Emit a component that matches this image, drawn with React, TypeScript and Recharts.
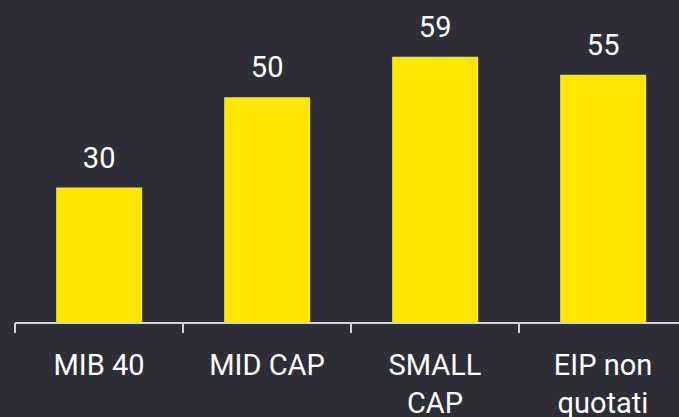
import { BarChart, Bar, XAxis, YAxis, LabelList } from "recharts";

const categories = ["MIB 40", "MID CAP", "SMALL CAP", "EIP non quotati"];
const values = [30, 50, 59, 55];
const tickLines: Record<string, string[]> = {
  "MIB 40": ["MIB 40"],
  "MID CAP": ["MID CAP"],
  "SMALL CAP": ["SMALL", "CAP"],
  "EIP non quotati": ["EIP non", "quotati"],
};

const BG = "#2e2e38";
const YELLOW = "#ffe600";
const AXIS = "#d2d2da";
const FONT = "Roboto, 'Noto Sans', sans-serif";

const data = categories.map((name, i) => ({ name, value: values[i] }));

// ticks sit on the band edges, not on the category centres
const CategoryTick = (props: any) => {
  const { x, y, payload, index, width, visibleTicksCount } = props;
  const lines = tickLines[payload.value] ?? [payload.value];
  const half = width / visibleTicksCount / 2;
  const axisY = y - 12;
  return (
    <g>
      <line x1={x - half} x2={x - half} y1={axisY} y2={axisY + 10} stroke={AXIS} strokeWidth={2} />
      {index === visibleTicksCount - 1 && (
        <line x1={x + half} x2={x + half} y1={axisY} y2={axisY + 10} stroke={AXIS} strokeWidth={2} />
      )}
      <text
        x={x}
        y={y + 40}
        textAnchor="middle"
        fill="#ffffff"
        fontSize={29}
        fontFamily={FONT}
      >
        {lines.map((line, i) => (
          <tspan key={line} x={x} dy={i === 0 ? 0 : 38}>
            {line}
          </tspan>
        ))}
      </text>
    </g>
  );
};

const App = () => {
  return (
    <div
      style={{
        position: "fixed",
        left: 0,
        top: 0,
        width: 679,
        height: 417,
        background: BG,
        overflow: "hidden",
      }}
    >
      <BarChart
        width={700}
        height={417}
        data={data}
        margin={{ top: 7, right: 13, bottom: 0, left: 15 }}
        barCategoryGap="24.5%"
      >
        <XAxis
          dataKey="name"
          axisLine={{ stroke: AXIS, strokeWidth: 2 }}
          tickLine={false}
          tickSize={10}
          height={94}
          interval={0}
          tick={<CategoryTick />}
        />
        <YAxis hide domain={[0, 70]} />
        <Bar dataKey="value" fill={YELLOW} isAnimationActive={false}>
          <LabelList
            dataKey="value"
            position="top"
            offset={20}
            fill="#ffffff"
            fontSize={29}
            fontFamily={FONT}
          />
        </Bar>
      </BarChart>
    </div>
  );
};

export default App;
